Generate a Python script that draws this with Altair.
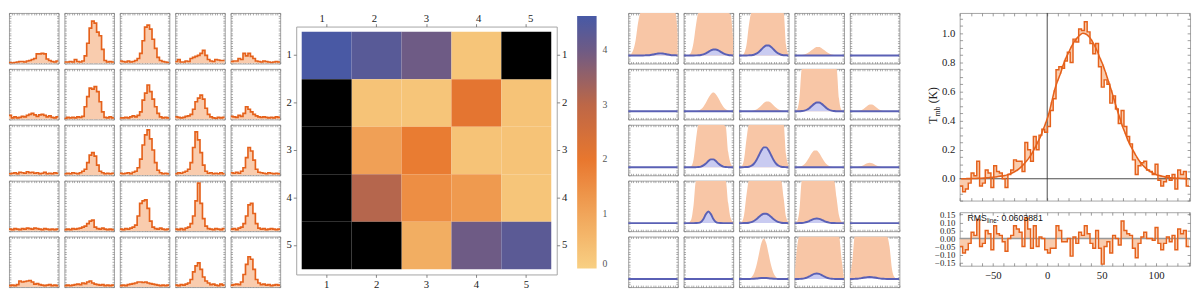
import altair as alt
import pandas as pd

# ------------------------------------------------------------------ data
# big spectrum (channel centres V0 + DV*i, km/s)
V0 = -79.0
DV = 2.6
SPEC = [-0.05, -0.09, -0.07, -0.03, 0.04, 0.02, 0.12, -0.05, -0.03, 0.06,
        0.04, -0.06, 0.09, 0.05, 0.04, 0.0, -0.06, 0.03, 0.06, 0.13,
        0.12, 0.12, 0.05, 0.25, 0.2, 0.12, 0.29, 0.2, 0.3, 0.34,
        0.32, 0.36, 0.47, 0.55, 0.75, 0.77, 0.76, 0.81, 0.87, 0.8,
        0.96, 0.94, 1.03, 1.02, 1.08, 1.01, 0.93, 0.86, 0.93, 0.77,
        0.63, 0.68, 0.65, 0.52, 0.57, 0.48, 0.38, 0.47, 0.36, 0.29,
        0.24, 0.13, 0.03, 0.09, 0.11, 0.12, 0.06, 0.05, 0.03, 0.1,
        -0.01, -0.05, -0.02, 0.02, -0.01, 0.03, -0.07, 0.06, 0.03, 0.05,
        -0.05]
FIT = [0.0, 0.0, 0.001, 0.001, 0.002, 0.002, 0.003, 0.004, 0.005, 0.006,
       0.008, 0.01, 0.012, 0.015, 0.018, 0.021, 0.025, 0.032, 0.04, 0.05,
       0.062, 0.078, 0.098, 0.12, 0.145, 0.175, 0.21, 0.25, 0.29, 0.34,
       0.39, 0.45, 0.53, 0.61, 0.67, 0.72, 0.78, 0.83, 0.87, 0.91,
       0.945, 0.97, 0.99, 1.0, 0.995, 0.98, 0.955, 0.92, 0.88, 0.83,
       0.785, 0.73, 0.67, 0.61, 0.545, 0.48, 0.42, 0.36, 0.31, 0.26,
       0.22, 0.185, 0.15, 0.12, 0.097, 0.077, 0.06, 0.047, 0.036, 0.028,
       0.022, 0.017, 0.013, 0.01, 0.007, 0.005, 0.004, 0.003, 0.002, 0.001,
       0.001]
RESID = [-0.05, -0.09, -0.07, -0.03, 0.04, 0.02, 0.12, -0.05, -0.03, 0.05,
         0.03, -0.07, 0.08, 0.03, 0.02, -0.02, -0.08, 0.0, 0.02, 0.08,
         0.06, 0.04, -0.05, 0.13, 0.06, -0.06, 0.08, -0.05, 0.01, 0.0,
         -0.07, -0.09, -0.06, -0.06, 0.08, 0.05, -0.02, -0.02, 0.0, -0.11,
         0.01, -0.03, 0.04, 0.02, 0.08, 0.03, -0.03, -0.06, 0.05, -0.06,
         -0.16, -0.05, -0.02, -0.09, 0.02, 0.0, -0.04, 0.11, 0.05, 0.03,
         0.02, -0.06, -0.12, -0.03, 0.01, 0.04, 0.0, 0.0, -0.01, 0.07,
         -0.03, -0.07, -0.03, 0.01, -0.02, 0.02, -0.07, 0.06, 0.03, 0.05,
         -0.05]
RMS_VALUE = "0.0603881"

# left grid: binned spectra (20 channels, fraction of panel height)
LEFT_R1 = [
    [0.02, 0.01, 0.02, 0.03, 0.04, 0.04, 0.03, 0.05, 0.06, 0.08, 0.1, 0.19, 0.19, 0.2, 0.19, 0.09, 0.06, 0.04, 0.03, 0.05],
    [0.03, 0.03, 0.04, 0.03, 0.08, 0.04, 0.03, 0.05, 0.15, 0.4, 0.7, 0.84, 0.8, 0.62, 0.55, 0.28, 0.06, 0.03, 0.04, 0.03],
    [0.05, 0.04, 0.03, 0.05, 0.03, 0.04, 0.06, 0.1, 0.2, 0.45, 0.72, 0.76, 0.68, 0.48, 0.3, 0.12, 0.06, 0.04, 0.03, 0.02],
    [0.04, 0.08, 0.03, 0.03, 0.05, 0.04, 0.1, 0.12, 0.14, 0.16, 0.2, 0.26, 0.16, 0.08, 0.05, 0.04, 0.08, 0.07, 0.06, 0.06],
    [0.04, 0.05, 0.05, 0.1, 0.08, 0.2, 0.15, 0.2, 0.14, 0.1, 0.05, 0.04, 0.03, 0.05, 0.04, 0.03, 0.02, 0.03, 0.04, 0.03],
]
LEFT_R2 = [
    [0.08, 0.03, 0.05, 0.03, 0.04, 0.06, 0.05, 0.08, 0.1, 0.12, 0.09, 0.06, 0.09, 0.1, 0.08, 0.05, 0.07, 0.04, 0.03, 0.05],
    [0.02, 0.04, 0.03, 0.04, 0.03, 0.05, 0.04, 0.06, 0.25, 0.45, 0.62, 0.6, 0.65, 0.55, 0.35, 0.15, 0.04, 0.03, 0.05, 0.03],
    [0.03, 0.03, 0.04, 0.03, 0.05, 0.07, 0.05, 0.08, 0.15, 0.38, 0.52, 0.68, 0.55, 0.4, 0.25, 0.12, 0.05, 0.03, 0.04, 0.03],
    [0.05, 0.04, 0.03, 0.04, 0.06, 0.07, 0.1, 0.2, 0.35, 0.42, 0.48, 0.4, 0.22, 0.1, 0.05, 0.03, 0.02, 0.04, 0.03, 0.04],
    [0.06, 0.05, 0.04, 0.08, 0.06, 0.12, 0.25, 0.2, 0.15, 0.1, 0.07, 0.05, 0.04, 0.05, 0.04, 0.03, 0.04, 0.03, 0.05, 0.04],
]
LEFT_R3 = [
    [0.03, 0.04, 0.05, 0.03, 0.06, 0.05, 0.04, 0.07, 0.05, 0.06, 0.04, 0.05, 0.03, 0.04, 0.06, 0.03, 0.04, 0.03, 0.05, 0.04],
    [0.03, 0.04, 0.03, 0.05, 0.04, 0.03, 0.05, 0.08, 0.12, 0.25, 0.4, 0.45, 0.38, 0.2, 0.08, 0.05, 0.03, 0.04, 0.03, 0.04],
    [0.04, 0.03, 0.04, 0.05, 0.03, 0.06, 0.08, 0.15, 0.32, 0.6, 0.8, 0.9, 0.72, 0.5, 0.25, 0.1, 0.05, 0.03, 0.04, 0.03],
    [0.03, 0.05, 0.04, 0.06, 0.08, 0.12, 0.25, 0.55, 0.86, 0.7, 0.45, 0.2, 0.08, 0.04, 0.05, 0.03, 0.04, 0.03, 0.05, 0.03],
    [0.05, 0.04, 0.06, 0.04, 0.08, 0.15, 0.35, 0.55, 0.48, 0.3, 0.12, 0.06, 0.05, 0.04, 0.03, 0.05, 0.04, 0.03, 0.04, 0.03],
]
LEFT_R4 = [
    [0.04, 0.03, 0.05, 0.04, 0.03, 0.05, 0.04, 0.06, 0.05, 0.04, 0.06, 0.05, 0.04, 0.03, 0.05, 0.04, 0.03, 0.04, 0.03, 0.04],
    [0.03, 0.04, 0.03, 0.05, 0.04, 0.05, 0.06, 0.08, 0.1, 0.15, 0.2, 0.22, 0.08, 0.05, 0.04, 0.06, 0.04, 0.03, 0.04, 0.03],
    [0.04, 0.03, 0.05, 0.04, 0.06, 0.08, 0.12, 0.3, 0.55, 0.6, 0.62, 0.45, 0.2, 0.08, 0.05, 0.04, 0.06, 0.04, 0.03, 0.04],
    [0.04, 0.03, 0.05, 0.03, 0.06, 0.08, 0.15, 0.3, 0.6, 0.95, 0.55, 0.25, 0.1, 0.05, 0.04, 0.03, 0.05, 0.04, 0.03, 0.05],
    [0.04, 0.05, 0.03, 0.06, 0.08, 0.15, 0.3, 0.52, 0.55, 0.35, 0.15, 0.06, 0.04, 0.05, 0.03, 0.04, 0.05, 0.04, 0.03, 0.04],
]
LEFT_R5 = [
    [0.03, 0.04, 0.03, 0.05, 0.12, 0.1, 0.11, 0.12, 0.13, 0.1, 0.06, 0.07, 0.05, 0.04, 0.03, 0.04, 0.05, 0.03, 0.04, 0.03],
    [0.03, 0.04, 0.03, 0.04, 0.05, 0.06, 0.05, 0.08, 0.07, 0.1, 0.12, 0.08, 0.06, 0.05, 0.04, 0.05, 0.03, 0.04, 0.03, 0.04],
    [0.03, 0.04, 0.03, 0.05, 0.06, 0.07, 0.08, 0.1, 0.1, 0.09, 0.1, 0.08, 0.07, 0.06, 0.05, 0.04, 0.03, 0.04, 0.03, 0.04],
    [0.04, 0.03, 0.05, 0.04, 0.06, 0.08, 0.15, 0.3, 0.42, 0.48, 0.35, 0.2, 0.12, 0.08, 0.05, 0.06, 0.04, 0.03, 0.06, 0.04],
    [0.04, 0.05, 0.06, 0.05, 0.1, 0.25, 0.45, 0.6, 0.55, 0.35, 0.15, 0.08, 0.05, 0.06, 0.04, 0.05, 0.03, 0.04, 0.05, 0.04],
]

# heat map (row 1 at top); None = black (masked) cell
HEAT_R1 = [4.6, 4.35, 4.0, 0.25, None]
HEAT_R2 = [None, 0.3, 0.25, 2.1, 0.3]
HEAT_R3 = [None, 1.1, 1.9, 0.3, 0.3]
HEAT_R4 = [None, 3.1, 1.5, 1.25, 0.25]
HEAT_R5 = [None, None, 0.8, 4.0, 4.3]
CBAR_STOPS = [0, 1, 2, 3, 4, 4.63]
CBAR_COLORS = ["#f8d083", "#f1a55a", "#e8772e", "#bd6747", "#6e5b85", "#4759a6"]
CBAR_TICKS = [0, 1, 2, 3, 4]

# middle grid: model curves sampled at MID_X (fraction of panel height above baseline)
MID_X = [0, 5, 10, 15, 20, 25, 30, 35, 40, 45, 50, 55, 60, 65, 70, 75, 80, 85, 90, 95, 100]
MID_ORANGE_R1 = [
    [0, 0.02, 0.1, 0.3, 0.65, 1.3, 1.5, 1.5, 1.5, 1.5, 1.5, 1.5, 1.5, 1.5, 1.5, 1.5, 1.5, 1.5, 1.5, 0.84, 0.4],
    [0, 0, 0.01, 0.06, 0.25, 0.6, 1.1, 1.5, 1.5, 1.5, 1.5, 1.5, 1.5, 1.5, 1.5, 1.5, 1.5, 1.5, 1.5, 0.8, 0.3],
    [0, 0, 0.04, 0.2, 0.6, 1.2, 1.5, 1.5, 1.5, 1.5, 1.5, 1.5, 1.5, 1.5, 1.5, 1.5, 1.5, 1.5, 0.84, 0.2, 0.02],
    [0, 0.001, 0.003, 0.007, 0.018, 0.038, 0.069, 0.107, 0.144, 0.167, 0.167, 0.144, 0.107, 0.069, 0.038, 0.018, 0.007, 0.003, 0.001, 0, 0],
    None,
]
MID_ORANGE_R2 = [
    None,
    [0, 0, 0, 0, 0.001, 0.005, 0.016, 0.042, 0.092, 0.169, 0.262, 0.339, 0.37, 0.339, 0.262, 0.169, 0.092, 0.042, 0.016, 0.005, 0.001],
    [0, 0, 0, 0, 0.002, 0.005, 0.014, 0.034, 0.069, 0.116, 0.165, 0.196, 0.196, 0.165, 0.116, 0.069, 0.034, 0.014, 0.005, 0.002, 0],
    [0, 0.03, 0.25, 0.84, 1.5, 1.5, 1.5, 1.5, 1.5, 1.5, 1.5, 1.5, 1.5, 1.5, 1.5, 1.5, 1.5, 0.84, 0.25, 0.03, 0],
    [0, 0, 0.001, 0.003, 0.011, 0.03, 0.064, 0.106, 0.136, 0.136, 0.106, 0.064, 0.03, 0.011, 0.003, 0.001, 0, 0, 0, 0, 0],
]
MID_ORANGE_R3 = [
    None,
    [0, 0, 0, 0.02, 0.15, 0.55, 1.1, 1.5, 1.5, 1.5, 1.5, 1.5, 1.5, 1.5, 1.5, 1.5, 1.5, 0.8, 0.3, 0.08, 0.01],
    [0, 0.02, 0.15, 0.55, 1.1, 1.5, 1.5, 1.5, 1.5, 1.5, 1.5, 1.5, 1.5, 1.5, 1.5, 1.5, 1.5, 1.5, 0.84, 0.25, 0.03],
    [0, 0.003, 0.009, 0.024, 0.058, 0.117, 0.198, 0.28, 0.333, 0.333, 0.28, 0.198, 0.117, 0.058, 0.024, 0.009, 0.003, 0.001, 0, 0, 0],
    [0, 0, 0.001, 0.004, 0.012, 0.029, 0.055, 0.079, 0.09, 0.079, 0.055, 0.029, 0.012, 0.004, 0, 0, 0, 0, 0, 0, 0],
]
MID_ORANGE_R4 = [
    None,
    [0, 0, 0.01, 0.06, 0.35, 0.84, 1.5, 1.5, 1.5, 1.5, 1.5, 1.5, 1.5, 1.5, 1.5, 1.5, 1.5, 0.95, 0.4, 0.1, 0.02],
    [0, 0.02, 0.15, 0.55, 1.1, 1.5, 1.5, 1.5, 1.5, 1.5, 1.5, 1.5, 1.5, 1.5, 1.5, 1.5, 1.5, 1.1, 0.5, 0.12, 0.02],
    [0, 0.03, 0.25, 0.84, 1.5, 1.5, 1.5, 1.5, 1.5, 1.5, 1.5, 1.5, 1.5, 1.5, 1.5, 1.5, 1.1, 0.5, 0.15, 0.03, 0],
    None,
]
MID_ORANGE_R5 = [
    None,
    None,
    [0, 0, 0, 0.002, 0.009, 0.035, 0.108, 0.26, 0.486, 0.706, 0.8, 0.706, 0.486, 0.26, 0.108, 0.035, 0.009, 0.002, 0, 0, 0],
    [0.02, 0.6, 1.5, 1.5, 1.5, 1.5, 1.5, 1.5, 1.5, 1.5, 1.5, 1.5, 1.5, 1.5, 1.5, 1.5, 1.5, 1.5, 1.5, 0.4, 0.02],
    [0.05, 0.35, 0.84, 1.5, 1.5, 1.5, 1.5, 1.5, 1.5, 1.5, 1.5, 1.5, 1.5, 1.5, 1.5, 1.5, 0.65, 0.2, 0.04, 0, 0],
]
MID_FLAT = [0, 0, 0, 0, 0, 0, 0, 0, 0, 0, 0, 0, 0, 0, 0, 0, 0, 0, 0, 0, 0]
MID_BLUE_R1 = [
    [0, 0, 0, 0, 0, 0, 0, 0.002, 0.005, 0.01, 0.018, 0.028, 0.037, 0.04, 0.037, 0.028, 0.018, 0.01, 0.005, 0.002, 0.001],
    [0, 0, 0, 0, 0, 0.001, 0.003, 0.009, 0.021, 0.041, 0.07, 0.099, 0.117, 0.117, 0.099, 0.07, 0.041, 0.021, 0.009, 0.003, 0.001],
    [0, 0, 0, 0, 0.002, 0.005, 0.014, 0.034, 0.069, 0.116, 0.165, 0.196, 0.196, 0.165, 0.116, 0.069, 0.034, 0.014, 0.005, 0.002, 0],
    MID_FLAT,
    MID_FLAT,
]
MID_BLUE_R2 = [
    MID_FLAT,
    MID_FLAT,
    MID_FLAT,
    [0, 0, 0.001, 0.005, 0.013, 0.031, 0.062, 0.105, 0.148, 0.176, 0.176, 0.148, 0.105, 0.062, 0.031, 0.013, 0.005, 0.001, 0, 0, 0],
    MID_FLAT,
]
MID_BLUE_R3 = [
    MID_FLAT,
    [0, 0, 0, 0, 0, 0.001, 0.004, 0.013, 0.035, 0.073, 0.121, 0.155, 0.155, 0.121, 0.073, 0.035, 0.013, 0.004, 0.001, 0, 0],
    [0, 0, 0.002, 0.003, 0.01, 0.029, 0.069, 0.138, 0.232, 0.329, 0.392, 0.392, 0.329, 0.232, 0.138, 0.069, 0.029, 0.01, 0.003, 0.001, 0],
    MID_FLAT,
    MID_FLAT,
]
MID_BLUE_R4 = [
    MID_FLAT,
    [0, 0, 0, 0, 0, 0.001, 0.004, 0.023, 0.083, 0.178, 0.23, 0.178, 0.083, 0.023, 0.004, 0.001, 0, 0, 0, 0, 0],
    [0, 0, 0.001, 0.003, 0.008, 0.02, 0.042, 0.077, 0.12, 0.161, 0.187, 0.187, 0.161, 0.12, 0.077, 0.042, 0.02, 0.008, 0.003, 0.001, 0],
    [0, 0, 0.001, 0.004, 0.01, 0.022, 0.041, 0.064, 0.083, 0.09, 0.083, 0.064, 0.041, 0.022, 0.01, 0.004, 0.001, 0, 0, 0, 0],
    MID_FLAT,
]
MID_BLUE_R5 = [
    MID_FLAT,
    MID_FLAT,
    [0, 0, 0, 0, 0.001, 0.002, 0.005, 0.009, 0.014, 0.018, 0.02, 0.018, 0.014, 0.009, 0.005, 0.002, 0.001, 0, 0, 0, 0],
    [0, 0, 0.002, 0.005, 0.013, 0.027, 0.05, 0.078, 0.101, 0.11, 0.101, 0.078, 0.05, 0.027, 0.013, 0.005, 0.002, 0, 0, 0, 0],
    [0, 0.001, 0.003, 0.006, 0.012, 0.021, 0.03, 0.037, 0.04, 0.037, 0.03, 0.021, 0.012, 0.006, 0.003, 0.001, 0, 0, 0, 0, 0],
]

# ------------------------------------------------------------------ style
SERIF = "Liberation Serif"
SANS = "Liberation Sans"
LINE_OR = "#e5611b"
FILL_OR = "#f9ccae"
MID_OR = "#f8c6a6"
BLUE = "#5a60b5"
BLUE_FILL = "#c9cbf1"
FRAME = "#a3a3a3"
TICKC = "#707070"
PW, PH = 51, 52

# ------------------------------------------------------------------ tables
left_rows = [LEFT_R1, LEFT_R2, LEFT_R3, LEFT_R4, LEFT_R5]
recs = []
for r, row in enumerate(left_rows):
    for c, vals in enumerate(row):
        for i, v in enumerate(vals + vals[-1:]):
            recs.append({"p": r * 5 + c, "x": i, "y": v})
LEFT_DF = pd.DataFrame(recs)

mo_rows = [MID_ORANGE_R1, MID_ORANGE_R2, MID_ORANGE_R3, MID_ORANGE_R4, MID_ORANGE_R5]
mb_rows = [MID_BLUE_R1, MID_BLUE_R2, MID_BLUE_R3, MID_BLUE_R4, MID_BLUE_R5]
orec, brec = [], []
for r in range(5):
    for c in range(5):
        k = r * 5 + c
        if mo_rows[r][c] is not None:
            for x, v in zip(MID_X, mo_rows[r][c]):
                orec.append({"p": k, "x": x, "y": v})
        for x, v in zip(MID_X, mb_rows[r][c]):
            brec.append({"p": k, "x": x, "y": v})
MIDO_DF = pd.DataFrame(orec)
MIDB_DF = pd.DataFrame(brec)

CATS = ["1", "2", "3", "4", "5"]
heat_rows = [HEAT_R1, HEAT_R2, HEAT_R3, HEAT_R4, HEAT_R5]
HEAT_DF = pd.DataFrame([{"r": CATS[r], "c": CATS[c], "val": heat_rows[r][c]}
                        for r in range(5) for c in range(5)])
HEAD_DF = pd.DataFrame({"c": CATS})

n = len(SPEC)
edges = [V0 - DV / 2 + DV * i for i in range(n + 1)]
MAIN_DF = pd.DataFrame({"ve": edges, "t": SPEC + SPEC[-1:], "f": FIT + FIT[-1:],
                        "r": RESID + RESID[-1:]})
FIT_DF = pd.DataFrame({"vc": [V0 + DV * i for i in range(n)], "fc": FIT})
ONE_DF = pd.DataFrame({"z": [0.0]})


# ------------------------------------------------------------------ helpers
def fax(orient, vals, size=2):
    return alt.Axis(orient=orient, values=vals, labels=False, title=None, domain=False,
                    ticks=True, tickSize=size, tickWidth=0.6, tickColor=TICKC,
                    offset=-size, grid=False)


XT_L = list(range(0, 21))
YT_L = [i / 20 for i in range(21)]
XT_M = list(range(0, 101, 5))
YT_M = [round(-0.16 + 0.05 * i, 3) for i in range(21)]


def left_panel(k):
    xs = alt.Scale(domain=[0, 20], nice=False, zero=False)
    ys = alt.Scale(domain=[0, 1], nice=False, zero=False, clamp=True)
    base = alt.Chart(LEFT_DF).transform_filter(alt.datum.p == k)
    area = base.mark_area(interpolate="step-after", color=FILL_OR, clip=True).encode(
        x=alt.X("x:Q", scale=xs, axis=fax("bottom", XT_L)),
        y=alt.Y("y:Q", scale=ys, axis=fax("left", YT_L)),
        y2=alt.datum(0))
    line = base.mark_line(interpolate="step-after", color=LINE_OR, strokeWidth=1.7, clip=True).encode(
        x=alt.X("x:Q", scale=xs, axis=None), y=alt.Y("y:Q", scale=ys, axis=None))
    dummy = base.mark_line(opacity=0, clip=True).encode(
        x=alt.X("x:Q", scale=xs, axis=fax("top", XT_L)),
        y=alt.Y("y:Q", scale=ys, axis=fax("right", YT_L)))
    return alt.layer(area, line, dummy).resolve_axis(x="independent", y="independent").properties(
        width=PW, height=PH)


def mid_panel(k):
    xs = alt.Scale(domain=[0, 100], nice=False, zero=False)
    ys = alt.Scale(domain=[-0.16, 0.84], nice=False, zero=False, clamp=True)
    ob = alt.Chart(MIDO_DF).transform_filter(alt.datum.p == k)
    bb = alt.Chart(MIDB_DF).transform_filter(alt.datum.p == k)
    oarea = ob.mark_area(interpolate="monotone", color=MID_OR, clip=True).encode(
        x=alt.X("x:Q", scale=xs, axis=fax("bottom", XT_M)),
        y=alt.Y("y:Q", scale=ys, axis=fax("left", YT_M)),
        y2=alt.datum(0))
    barea = bb.mark_area(interpolate="monotone", color=BLUE_FILL, clip=True).encode(
        x=alt.X("x:Q", scale=xs, axis=None), y=alt.Y("y:Q", scale=ys, axis=None), y2=alt.datum(0))
    bline = bb.mark_line(interpolate="monotone", color=BLUE, strokeWidth=2, clip=True).encode(
        x=alt.X("x:Q", scale=xs, axis=None), y=alt.Y("y:Q", scale=ys, axis=None))
    dummy = bb.mark_line(opacity=0, clip=True).encode(
        x=alt.X("x:Q", scale=xs, axis=fax("top", XT_M)),
        y=alt.Y("y:Q", scale=ys, axis=fax("right", YT_M)))
    return alt.layer(oarea, barea, bline, dummy).resolve_axis(x="independent", y="independent").properties(
        width=PW, height=PH)


left_grid = alt.vconcat(*[alt.hconcat(*[left_panel(r * 5 + c) for c in range(5)], spacing=4)
                          for r in range(5)], spacing=3.5)
mid_grid = alt.vconcat(*[alt.hconcat(*[mid_panel(r * 5 + c) for c in range(5)], spacing=4)
                         for r in range(5)], spacing=3.5)

# ------------------------------------------------------------------ heat map
HW, HH = 268, 255
hxs = alt.Scale(domain=CATS, paddingInner=0, paddingOuter=0.11)
hys = alt.Scale(domain=CATS, paddingInner=0, paddingOuter=0.11)


def hax(orient, labels=True, pad=2):
    return alt.Axis(orient=orient, title=None, domain=False, ticks=True, tickSize=3,
                    tickColor="#666", tickWidth=0.8, labels=labels, labelFont=SERIF,
                    labelFontSize=11, labelColor="#222", labelPadding=pad, labelAngle=0)


head = alt.Chart(HEAD_DF).mark_text(font=SERIF, fontSize=11, color="#222", baseline="middle").encode(
    x=alt.X("c:O", scale=hxs, axis=None), y=alt.value(6), text="c:N").properties(
    width=HW, height=12, view=alt.ViewBackground(stroke=None))

hrect = alt.Chart(HEAT_DF).transform_filter("isValid(datum.val)").mark_rect().encode(
    x=alt.X("c:O", scale=hxs, axis=hax("bottom", pad=1)),
    y=alt.Y("r:O", scale=hys, axis=hax("left")),
    color=alt.Color("val:Q",
                    scale=alt.Scale(domain=CBAR_STOPS, range=CBAR_COLORS, interpolate="rgb"),
                    legend=alt.Legend(orient="none", legendX=289, legendY=-11, direction="vertical",
                                      gradientLength=260, gradientThickness=20, title=None,
                                      values=CBAR_TICKS, labelFont=SERIF, labelFontSize=10,
                                      labelColor="#555", labelOffset=6, gradientStrokeWidth=0)))
hblack = alt.Chart(HEAT_DF).transform_filter("!isValid(datum.val)").mark_rect(color="black").encode(
    x=alt.X("c:O", scale=hxs, axis=None), y=alt.Y("r:O", scale=hys, axis=None))
hdummy = alt.Chart(HEAT_DF).mark_rect(opacity=0).encode(
    x=alt.X("c:O", scale=hxs, axis=hax("top", labels=False)), y=alt.Y("r:O", scale=hys, axis=hax("right")))
heat_body = alt.layer(hrect, hblack, hdummy).resolve_axis(x="independent", y="independent").properties(
    width=HW, height=HH)
heat = alt.vconcat(head, heat_body, spacing=2, bounds="flush").resolve_scale(
    color="independent").resolve_legend(color="independent")

# ------------------------------------------------------------------ big spectrum + residual
XS = alt.Scale(domain=[-80.4, 131.2], nice=False, zero=False)
YS_M = alt.Scale(domain=[-0.15, 1.14], nice=False, zero=False)
YS_R = alt.Scale(domain=[-0.17, 0.165], nice=False, zero=False)
XT = list(range(-80, 131, 10))
YT_MAIN = [round(-0.15 + 0.05 * i, 2) for i in range(26)]
YT_RES = [-0.15, -0.1, -0.05, 0.0, 0.05, 0.1, 0.15]


def tax(orient, vals, **kw):
    return alt.Axis(orient=orient, values=vals, title=None, domain=False, ticks=True, tickSize=3,
                    tickWidth=0.7, tickColor=TICKC, offset=-3, grid=False, **kw)


mb = alt.Chart(MAIN_DF)
m_fill = mb.mark_area(interpolate="step-after", color=FILL_OR, clip=True).encode(
    x=alt.X("ve:Q", scale=XS, axis=tax("bottom", XT, labels=False)),
    y=alt.Y("t:Q", scale=YS_M, axis=tax("left", YT_MAIN, labels=True, labelFont=SERIF, labelFontSize=11,
                                         labelColor="#222", labelPadding=5,
                                         labelExpr="abs(datum.value*5 - round(datum.value*5)) < 0.001 && datum.value > -0.01 ? format(datum.value, '.1f') : ''")),
    y2="f:Q")
m_h0 = alt.Chart(ONE_DF).mark_rule(color="#333", strokeWidth=0.9).encode(
    y=alt.Y("z:Q", scale=YS_M, axis=None))
m_v0 = alt.Chart(ONE_DF).mark_rule(color="#333", strokeWidth=0.9).encode(
    x=alt.X("z:Q", scale=XS, axis=None))
m_step = mb.mark_line(interpolate="step-after", color=LINE_OR, strokeWidth=1.5, clip=True).encode(
    x=alt.X("ve:Q", scale=XS, axis=None), y=alt.Y("t:Q", scale=YS_M, axis=None))
m_fit = alt.Chart(FIT_DF).mark_line(interpolate="monotone", color=LINE_OR, strokeWidth=1.6, clip=True).encode(
    x=alt.X("vc:Q", scale=XS, axis=None), y=alt.Y("fc:Q", scale=YS_M, axis=None))
m_dummy = mb.mark_line(opacity=0, clip=True).encode(
    x=alt.X("ve:Q", scale=XS, axis=tax("top", XT, labels=False)),
    y=alt.Y("t:Q", scale=YS_M, axis=tax("right", YT_MAIN, labels=False)))
yl1 = alt.Chart(ONE_DF).mark_text(angle=270, align="left", baseline="alphabetic", font=SERIF,
                                  fontSize=12, color="#222").encode(
    x=alt.value(-23), y=alt.value(114), text=alt.value("T"))
yl2 = alt.Chart(ONE_DF).mark_text(angle=270, align="left", baseline="alphabetic", font=SERIF,
                                  fontSize=8, color="#222").encode(
    x=alt.value(-20), y=alt.value(106.5), text=alt.value("mb"))
yl3 = alt.Chart(ONE_DF).mark_text(angle=270, align="left", baseline="alphabetic", font=SERIF,
                                  fontSize=12, color="#222").encode(
    x=alt.value(-23), y=alt.value(93), text=alt.value("(K)"))
main = alt.layer(m_fill, m_h0, m_v0, m_step, m_fit, m_dummy, yl1, yl2, yl3).resolve_axis(
    x="independent", y="independent").properties(width=237, height=193)

r_fill = mb.mark_area(interpolate="step-after", color=FILL_OR, clip=True).encode(
    x=alt.X("ve:Q", scale=XS, axis=tax("bottom", XT, labels=True, labelFont=SERIF, labelFontSize=11,
                                       labelColor="#222", labelPadding=4,
                                       labelExpr="abs(datum.value % 50) < 0.001 ? datum.label : ''")),
    y=alt.Y("r:Q", scale=YS_R, axis=tax("left", YT_RES, labels=True, labelFont=SERIF, labelFontSize=9,
                                        labelColor="#222", labelPadding=5, format=".2f",
                                        labelOverlap=False)),
    y2=alt.datum(0))
r_h0 = alt.Chart(ONE_DF).mark_rule(color="#999", strokeWidth=1.5).encode(
    y=alt.Y("z:Q", scale=YS_R, axis=None))
r_step = mb.mark_line(interpolate="step-after", color=LINE_OR, strokeWidth=1.5, clip=True).encode(
    x=alt.X("ve:Q", scale=XS, axis=None), y=alt.Y("r:Q", scale=YS_R, axis=None))
r_dummy = mb.mark_line(opacity=0, clip=True).encode(
    x=alt.X("ve:Q", scale=XS, axis=tax("top", XT, labels=False)),
    y=alt.Y("r:Q", scale=YS_R, axis=tax("right", YT_RES, labels=False)))
rt1 = alt.Chart(ONE_DF).mark_text(align="left", baseline="alphabetic", font=SANS, fontSize=9,
                                  color="#111").encode(x=alt.value(8), y=alt.value(9),
                                                       text=alt.value("RMS"))
rt2 = alt.Chart(ONE_DF).mark_text(align="left", baseline="alphabetic", font=SANS, fontSize=6.5,
                                  color="#111").encode(x=alt.value(28), y=alt.value(11),
                                                       text=alt.value("line"))
rt3 = alt.Chart(ONE_DF).mark_text(align="left", baseline="alphabetic", font=SANS, fontSize=9,
                                  color="#111").encode(x=alt.value(38), y=alt.value(9),
                                                       text=alt.value(": " + RMS_VALUE))
resid = alt.layer(r_fill, r_h0, r_step, r_dummy, rt1, rt2, rt3).resolve_axis(
    x="independent", y="independent").properties(width=237, height=55)

right = alt.vconcat(main, resid, spacing=12, bounds="flush")

g1 = alt.hconcat(left_grid, heat, spacing=4.5).resolve_scale(color="independent").resolve_legend(
    color="independent")
g2 = alt.hconcat(mid_grid, right, spacing=27)
chart = alt.hconcat(g1, g2, spacing=20).resolve_scale(color="independent").resolve_legend(
    color="independent")
chart = chart.configure_view(stroke=FRAME, strokeWidth=1).properties(padding=0)

chart.save("out.html", embed_options={"renderer": "svg", "actions": False})
